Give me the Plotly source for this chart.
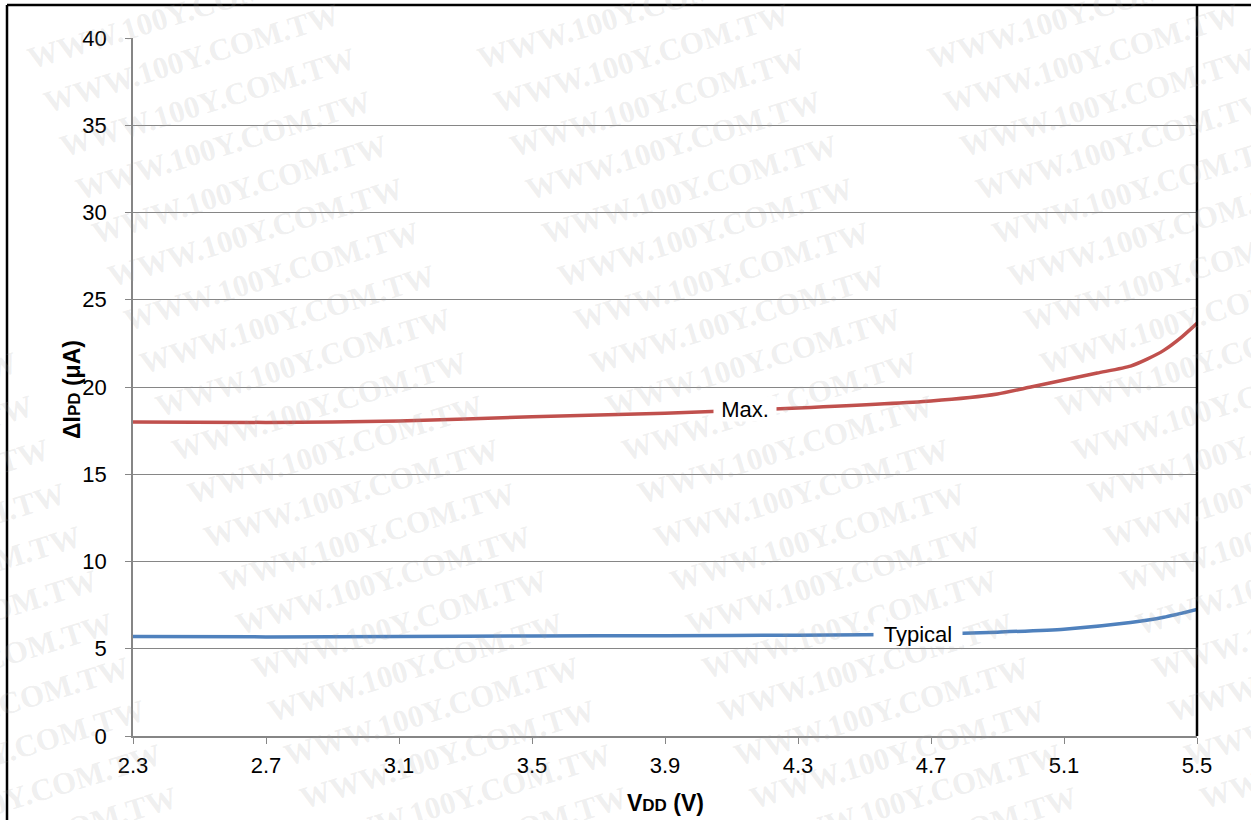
import plotly.graph_objects as go

# ---- data ----
max_vdd = [2.3, 2.7, 3.1, 3.5, 3.9, 4.3, 4.7, 4.9, 5.0, 5.1, 5.2, 5.3, 5.35, 5.4, 5.45, 5.5]
max_ipd = [18.0, 17.97, 18.05, 18.3, 18.5, 18.8, 19.2, 19.6, 20.0, 20.4, 20.8, 21.2, 21.6, 22.1, 22.8, 23.65]

typ_vdd = [2.3, 2.7, 3.1, 3.5, 3.9, 4.3, 4.7, 4.9, 5.1, 5.3, 5.4, 5.5]
typ_ipd = [5.7, 5.68, 5.7, 5.73, 5.75, 5.78, 5.83, 5.95, 6.12, 6.5, 6.8, 7.25]

x_ticks = [2.3, 2.7, 3.1, 3.5, 3.9, 4.3, 4.7, 5.1, 5.5]
y_ticks = [0, 5, 10, 15, 20, 25, 30, 35, 40]

watermark = "WWW.100Y.COM.TW"

FONT = "Liberation Sans, Arial, sans-serif"

fig = go.Figure()
fig.add_trace(go.Scatter(x=max_vdd, y=max_ipd, mode="lines",
                         line=dict(color="#C0504D", width=3.5, shape="spline", smoothing=0.6),
                         showlegend=False, hoverinfo="skip"))
fig.add_trace(go.Scatter(x=typ_vdd, y=typ_ipd, mode="lines",
                         line=dict(color="#4F81BD", width=3.5, shape="spline", smoothing=0.6),
                         showlegend=False, hoverinfo="skip"))

W, H = 1251, 820
L, R, T, B = 133, 54, 38, 84
pw, ph = W - L - R, H - T - B


def px2paper(px, py):
    return (px - L) / pw, (H - B - py) / ph


annotations = []
# watermark tiling (decoration)
for c in range(-1, 3):
    for r in range(20):
        cx = 175 + c * 450 + r * 16
        cy = 15 + r * 43.5
        if cx < -200 or cx > W + 200:
            continue
        xp, yp = px2paper(cx, cy)
        annotations.append(dict(
            x=xp, y=yp, xref="paper", yref="paper", xanchor="center", yanchor="middle",
            text="<b>" + watermark + "</b>", showarrow=False, textangle=-17,
            font=dict(family="Liberation Serif, Times New Roman, serif", size=31,
                      color="rgba(160,160,160,0.18)"),
        ))

xt, yt = px2paper(665, 788)
xy, yy = px2paper(72, 390)
annotations += [
    dict(x=4.14, y=18.75, xref="x", yref="y", xanchor="center", yanchor="middle", text="Max.", showarrow=False,
         font=dict(family=FONT, size=22, color="#000000"), bgcolor="#FFFFFF", width=62, height=24, borderpad=0),
    dict(x=4.66, y=5.85, xref="x", yref="y", xanchor="center", yanchor="middle", text="Typical", showarrow=False,
         font=dict(family=FONT, size=22, color="#000000"), bgcolor="#FFFFFF", width=88, height=24, borderpad=0),
    dict(x=xt, y=yt, xref="paper", yref="paper", xanchor="center", yanchor="top", showarrow=False,
         text="<b>V<span style='font-size:17px'>DD</span> (V)</b>",
         font=dict(family=FONT, size=23, color="#000000")),
    dict(x=xy, y=yy, xref="paper", yref="paper", xanchor="center", yanchor="middle", showarrow=False, textangle=-90,
         text="<b>ΔI<span style='font-size:17px'>PD</span> (μA)</b>",
         font=dict(family=FONT, size=23, color="#000000")),
]

bx, _ = px2paper(7, 0)
bx2, _ = px2paper(1260, 0)
_, by_top = px2paper(0, 5)
_, by_bot = px2paper(0, 830)

fig.update_layout(
    width=W, height=H,
    margin=dict(l=L, r=R, t=T, b=B),
    paper_bgcolor="#FFFFFF", plot_bgcolor="#FFFFFF",
    font=dict(family=FONT, size=22, color="#000000"),
    annotations=annotations,
    shapes=[
        dict(type="line", xref="paper", yref="paper", x0=bx, x1=bx, y0=by_top, y1=by_bot,
             line=dict(color="#000000", width=2.5)),
        dict(type="line", xref="paper", yref="paper", x0=bx, x1=bx2, y0=by_top, y1=by_top,
             line=dict(color="#000000", width=2.5)),
        dict(type="line", xref="paper", yref="paper", x0=1, x1=1, y0=0, y1=by_top,
             line=dict(color="#000000", width=2.5)),
    ],
)

fig.update_xaxes(range=[2.3, 5.5], tickvals=x_ticks, ticktext=[f"{v:.1f}" for v in x_ticks],
                 showgrid=False, zeroline=False, showline=True, linecolor="#868686", linewidth=1.5,
                 ticks="outside", ticklen=6, tickcolor="#868686", ticklabelstandoff=3,
                 tickfont=dict(family=FONT, size=22, color="#000000"))
fig.update_yaxes(range=[0, 40], tickvals=y_ticks, showgrid=True, gridcolor="#868686", gridwidth=1,
                 zeroline=False, showline=True, linecolor="#868686", linewidth=1.5,
                 ticks="outside", ticklen=6, tickcolor="#868686", ticklabelstandoff=14,
                 tickfont=dict(family=FONT, size=22, color="#000000"))

fig.write_html("out.html", config={"displayModeBar": False},
               post_script="document.body.style.margin='0px';document.body.style.overflow='hidden';")
